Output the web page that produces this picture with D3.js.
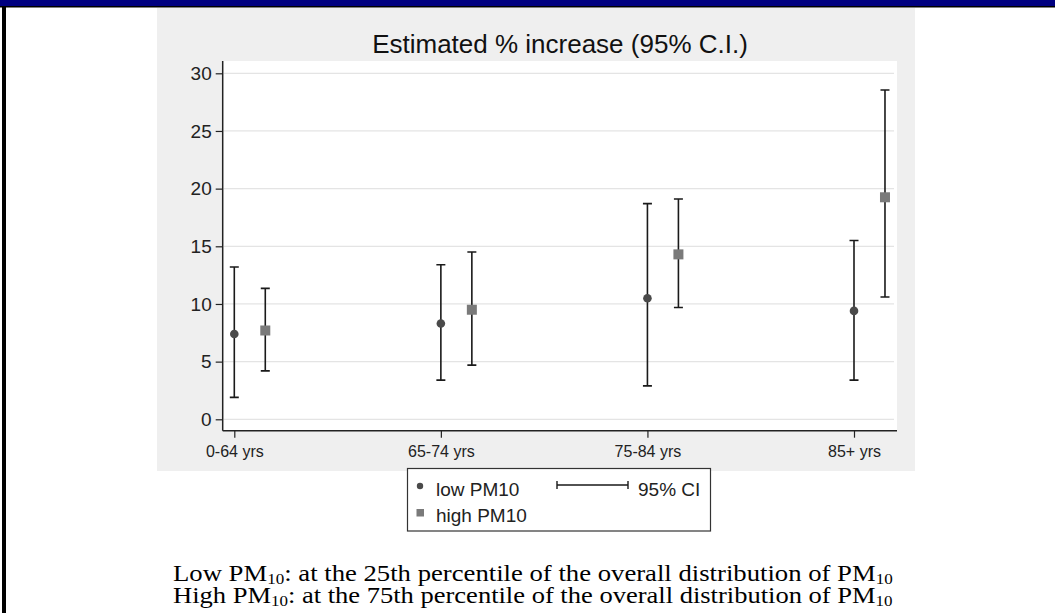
<!DOCTYPE html>
<html>
<head>
<meta charset="utf-8">
<script src="https://cdn.jsdelivr.net/npm/d3@7"></script>
<style>
  html, body { margin: 0; padding: 0; background: #ffffff; }
  svg { display: block; }
</style>
</head>
<body>
<div id="chart"></div>
<script>
// ---- data ----
const categories = ["0-64 yrs", "65-74 yrs", "75-84 yrs", "85+ yrs"];
const lowEst  = [7.4, 8.3, 10.5, 9.4];
const lowLo   = [1.9, 3.4, 2.9, 3.4];
const lowHi   = [13.2, 13.4, 18.7, 15.5];
const highEst = [7.7, 9.5, 14.3, 19.25];
const highLo  = [4.2, 4.7, 9.7, 10.6];
const highHi  = [11.35, 14.5, 19.1, 28.55];
const yTicks  = [0, 5, 10, 15, 20, 25, 30];
const seriesNames = ["low PM10", "high PM10"];
const titleText = "Estimated % increase (95% C.I.)";
const ciLabel = "95% CI";

// ---- layout ----
const W = 1055, H = 613;
const plot = { left: 222.7, right: 897, top: 61, bottom: 430.7 };
const sans = "'Liberation Sans', Arial, Helvetica, sans-serif";
const serif = "'Liberation Serif', 'Times New Roman', Times, serif";

const svg = d3.select("#chart").append("svg")
  .attr("width", W).attr("height", H);

// page frame
svg.append("rect").attr("x", 0).attr("y", 0).attr("width", W).attr("height", H).attr("fill", "#ffffff");
svg.append("rect").attr("x", 0).attr("y", 0).attr("width", W).attr("height", 6).attr("fill", "#000080");
svg.append("rect").attr("x", 0).attr("y", 6).attr("width", W).attr("height", 1.5).attr("fill", "#000000");
svg.append("rect").attr("x", 2).attr("y", 6).attr("width", 4).attr("height", H - 6).attr("fill", "#000000");

// chart background
svg.append("rect").attr("x", 157).attr("y", 8).attr("width", 758).attr("height", 463).attr("fill", "#efefef");
svg.append("rect").attr("x", plot.left).attr("y", plot.top)
  .attr("width", plot.right - plot.left).attr("height", plot.bottom - plot.top).attr("fill", "#ffffff");

// scales
const x = d3.scalePoint().domain(categories).range([234.3, 854]);
const offset = 0.15 * x.step();
const y = d3.scaleLinear().domain([0, 30]).range([419.3, 73.3]);

// gridlines
svg.append("g").selectAll("line").data(yTicks).join("line")
  .attr("x1", plot.left + 1).attr("x2", plot.right - 3)
  .attr("y1", d => y(d)).attr("y2", d => y(d))
  .attr("stroke", "#e4e4e4").attr("stroke-width", 1.2);

// y axis
const yAxis = svg.append("g").attr("transform", `translate(${plot.left},0)`)
  .call(d3.axisLeft(y).tickValues(yTicks).tickSize(7).tickPadding(4));
yAxis.select(".domain").attr("d", `M0,${plot.top}V${plot.bottom}`).attr("stroke", "#222").attr("stroke-width", 1.5);
yAxis.selectAll(".tick line").attr("stroke", "#222").attr("stroke-width", 1.2);
yAxis.selectAll(".tick text").attr("font-family", sans).attr("font-size", 19).attr("fill", "#222");

// x axis
const xAxis = svg.append("g").attr("transform", `translate(0,${plot.bottom})`)
  .call(d3.axisBottom(x).tickSize(7).tickPadding(8));
xAxis.select(".domain").attr("d", `M${plot.left},0H${plot.right}`).attr("stroke", "#222").attr("stroke-width", 1.5);
xAxis.selectAll(".tick line").attr("stroke", "#222").attr("stroke-width", 1.2);
xAxis.selectAll(".tick text").attr("font-family", sans).attr("font-size", 16).attr("fill", "#222");

// data rows
const rows = categories.map((c, i) => ([
  { cat: c, dx: 0, est: lowEst[i], lo: lowLo[i], hi: lowHi[i], kind: "low" },
  { cat: c, dx: offset, est: highEst[i], lo: highLo[i], hi: highHi[i], kind: "high" }
])).flat();

const capW = 4.5;
const bars = svg.append("g").attr("stroke", "#1a1a1a").attr("stroke-width", 1.6).attr("fill", "none");
bars.selectAll("path").data(rows).join("path")
  .attr("d", d => {
    const cx = x(d.cat) + d.dx;
    return `M${cx - capW},${y(d.hi)}H${cx + capW}M${cx},${y(d.hi)}V${y(d.lo)}M${cx - capW},${y(d.lo)}H${cx + capW}`;
  });

svg.append("g").selectAll("circle").data(rows.filter(d => d.kind === "low")).join("circle")
  .attr("cx", d => x(d.cat) + d.dx).attr("cy", d => y(d.est)).attr("r", 4.3)
  .attr("fill", "#4a4a4a");

svg.append("g").selectAll("rect").data(rows.filter(d => d.kind === "high")).join("rect")
  .attr("x", d => x(d.cat) + d.dx - 5).attr("y", d => y(d.est) - 5)
  .attr("width", 10).attr("height", 10)
  .attr("fill", "#7a7a7a");

// title
svg.append("text").attr("x", 560).attr("y", 53).attr("text-anchor", "middle")
  .attr("font-family", sans).attr("font-size", 26).attr("fill", "#111").text(titleText);

// legend
const lg = svg.append("g");
lg.append("rect").attr("x", 407.5).attr("y", 468.5).attr("width", 303).attr("height", 62.5)
  .attr("fill", "#ffffff").attr("stroke", "#333").attr("stroke-width", 1.2);
lg.append("circle").attr("cx", 420).attr("cy", 486).attr("r", 3.2).attr("fill", "#4a4a4a");
lg.append("rect").attr("x", 416.5).attr("y", 509).attr("width", 7.5).attr("height", 7.5).attr("fill", "#7a7a7a");
lg.append("text").attr("x", 436).attr("y", 496).attr("font-family", sans).attr("font-size", 19)
  .attr("fill", "#222").text(seriesNames[0]);
lg.append("text").attr("x", 436).attr("y", 521.5).attr("font-family", sans).attr("font-size", 19)
  .attr("fill", "#222").text(seriesNames[1]);
lg.append("path").attr("d", "M557,481V489M557,485H628M628,481V489")
  .attr("stroke", "#1a1a1a").attr("stroke-width", 1.4).attr("fill", "none");
lg.append("text").attr("x", 638).attr("y", 495.5).attr("font-family", sans).attr("font-size", 19)
  .attr("fill", "#222").text(ciLabel);

// footnotes
const notes = [
  ["Low PM", ": at the 25th percentile of the overall distribution of PM"],
  ["High PM", ": at the 75th percentile of the overall distribution of PM"]
];
const noteY = [581, 603];
const noteLeft = 173, noteWidth = 720;
notes.forEach((n, i) => {
  const g = svg.append("g");
  const t = g.append("text").attr("x", 0).attr("y", 0)
    .attr("font-family", serif).attr("font-size", 23.5).attr("fill", "#000");
  t.append("tspan").text(n[0]);
  t.append("tspan").attr("font-size", 15).attr("dy", 3).text("10");
  t.append("tspan").attr("dy", -3).text(n[1]);
  t.append("tspan").attr("font-size", 15).attr("dy", 3).text("10");
  const w = t.node().getComputedTextLength();
  const s = noteWidth / w;
  g.attr("transform", `translate(${noteLeft},${noteY[i]}) scale(${s},1)`);
});
</script>
</body>
</html>
